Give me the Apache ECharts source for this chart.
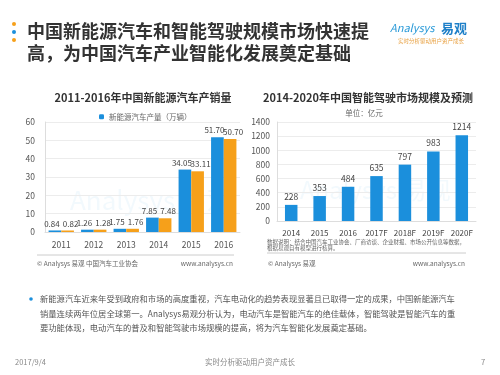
<!DOCTYPE html>
<html>
<head>
<meta charset="utf-8">
<script src="https://cdn.jsdelivr.net/npm/echarts@6/dist/echarts.min.js"></script>
<style>
  html, body { margin: 0; padding: 0; background: #fff; }
  #chart { width: 500px; height: 375px; }
</style>
</head>
<body>
<div id="chart"></div>
<script>
// left chart: new energy vehicles (万辆)
const evYears = ['2011', '2012', '2013', '2014', '2015', '2016']
const evProduction = [0.84, 1.26, 1.75, 7.85, 34.05, 51.70]
const evSales = [0.82, 1.28, 1.76, 7.48, 33.11, 50.70]

// right chart: autonomous driving market (亿元)
const adYears = ['2014', '2015', '2016', '2017F', '2018F', '2019F', '2020F']
const adMarket = [228, 353, 484, 635, 797, 983, 1214]

const FONT = '"Noto Sans CJK SC", "Noto Sans", sans-serif'
const BLUE = '#1b8fdc'
const ORANGE = '#f6a01a'

const bodyLines = [
  '新能源汽车近来年受到政府和市场的高度重视，汽车电动化的趋势表现显著且已取得一定的成果，中国新能源汽车',
  '销量连续两年位居全球第一。Analysys易观分析认为，电动汽车是智能汽车的绝佳载体，智能驾驶是智能汽车的重',
  '要功能体现，电动汽车的普及和智能驾驶市场规模的提高，将为汽车智能化发展奠定基础。'
]

const chart = echarts.init(document.getElementById('chart'))

const txt = (x, y, text, style) => ({
  type: 'text',
  x, y,
  style: Object.assign({ text, fontFamily: FONT, fill: '#555', fontSize: 8, textVerticalAlign: 'middle' }, style)
})

const axisLabel = { color: '#555', fontSize: 8.5, fontFamily: FONT }

chart.setOption({
  animation: false,
  textStyle: { fontFamily: FONT },
  title: [
    {
      text: '2011-2016年中国新能源汽车产销量',
      left: 138, top: 87, textAlign: 'center',
      textStyle: { fontSize: 11, fontWeight: 'bold', color: '#333', fontFamily: FONT }
    },
    {
      text: '2014-2020年中国智能驾驶市场规模及预测',
      left: 363, top: 87, textAlign: 'center',
      textStyle: { fontSize: 11, fontWeight: 'bold', color: '#333', fontFamily: FONT }
    }
  ],
  legend: {
    data: ['新能源汽车产量（万辆）'],
    left: 94, top: 108,
    itemWidth: 5, itemHeight: 5, itemGap: 4,
    textStyle: { fontSize: 7.5, color: '#666', fontFamily: FONT }
  },
  grid: [
    { left: 45, right: 260, top: 122, bottom: 143 },
    { left: 277, right: 24, top: 122, bottom: 154 }
  ],
  xAxis: [
    {
      type: 'category', gridIndex: 0, data: evYears,
      axisTick: { show: false },
      axisLine: { lineStyle: { color: '#ddd' } },
      axisLabel: Object.assign({ margin: 9, interval: 0 }, axisLabel)
    },
    {
      type: 'category', gridIndex: 1, data: adYears,
      axisTick: { show: false },
      axisLine: { lineStyle: { color: '#ddd' } },
      axisLabel: Object.assign({}, axisLabel, { margin: 8, interval: 0, color: '#444', fontSize: 8 })
    }
  ],
  yAxis: [
    {
      type: 'value', gridIndex: 0, min: 0, max: 60, interval: 10,
      axisLine: { show: true, lineStyle: { color: '#ddd' } },
      splitLine: { lineStyle: { color: '#ececec' } },
      axisLabel: Object.assign({ margin: 10 }, axisLabel)
    },
    {
      type: 'value', gridIndex: 1, min: 0, max: 1400, interval: 200,
      axisLine: { show: true, lineStyle: { color: '#ddd' } },
      splitLine: { lineStyle: { color: '#ececec' } },
      axisLabel: Object.assign({ margin: 7, formatter: v => String(v) }, axisLabel)
    }
  ],
  series: [
    {
      name: '新能源汽车产量（万辆）',
      type: 'bar', xAxisIndex: 0, yAxisIndex: 0,
      data: evProduction,
      barGap: '0%', barCategoryGap: '22%',
      itemStyle: { color: BLUE },
      label: {
        show: true, position: 'top', distance: 3, offset: [-3, 0],
        fontSize: 8, color: '#444', fontFamily: FONT,
        formatter: p => p.value.toFixed(2)
      }
    },
    {
      name: '新能源汽车销量（万辆）',
      type: 'bar', xAxisIndex: 0, yAxisIndex: 0,
      data: evSales,
      itemStyle: { color: ORANGE },
      label: {
        show: true, position: 'top', distance: 3, offset: [3, 0],
        fontSize: 8, color: '#444', fontFamily: FONT,
        formatter: p => p.value.toFixed(2)
      }
    },
    {
      name: '智能驾驶市场规模',
      type: 'bar', xAxisIndex: 1, yAxisIndex: 1,
      data: adMarket,
      barWidth: 12.5,
      itemStyle: { color: BLUE },
      label: {
        show: true, position: 'top', distance: 4,
        fontSize: 8.5, color: '#444', fontFamily: FONT
      }
    }
  ],
  graphic: [
    // header dots
    { type: 'circle', shape: { cx: 14, cy: 24, r: 2 }, style: { fill: ORANGE } },
    { type: 'circle', shape: { cx: 14, cy: 32, r: 2 }, style: { fill: BLUE } },
    { type: 'circle', shape: { cx: 14, cy: 40, r: 2 }, style: { fill: ORANGE } },
    txt(27, 31, '中国新能源汽车和智能驾驶规模市场快速提', { fontSize: 18, fontWeight: 'bold', fill: '#333' }),
    txt(27, 53, '高，为中国汽车产业智能化发展奠定基础', { fontSize: 18, fontWeight: 'bold', fill: '#333' }),
    // logo
    txt(390, 28, 'Analysys', { fontSize: 11, fontStyle: 'italic', fill: '#2a9ad8' }),
    txt(441, 28, '易观', { fontSize: 13, fontWeight: 'bold', fill: '#1d7fc8' }),
    txt(398, 41, '实时分析驱动用户资产成长', { fontSize: 5.5, fill: '#e8a040' }),
    // faint watermarks
    txt(70, 200, 'Analysys 易观', { fontSize: 26, fill: 'rgba(40,150,220,0.06)', rotation: 0.25 }),
    txt(300, 190, 'Analysys 易观', { fontSize: 24, fill: 'rgba(40,150,220,0.06)', rotation: 0.35 }),
    // unit note
    txt(364, 113, '单位：亿元', { fontSize: 7.5, fill: '#666', textAlign: 'center' }),
    // left footer
    { type: 'line', shape: { x1: 37, y1: 255, x2: 234, y2: 255 }, style: { stroke: '#ccc', lineWidth: 1 } },
    txt(37, 264, '© Analysys 易观 中国汽车工业协会', { fontSize: 6.5, fill: '#666' }),
    txt(233, 264, 'www.analysys.cn', { fontSize: 6.5, fill: '#666', textAlign: 'right' }),
    // right footer
    txt(267, 242, '数据说明：结合中国汽车工业协会、厂商访谈、企业财报、市场公开信息等数据，', { fontSize: 5.5, fill: '#666' }),
    txt(267, 248, '根据易观自有模型进行核算。', { fontSize: 5.5, fill: '#666' }),
    { type: 'line', shape: { x1: 267, y1: 253, x2: 466, y2: 253 }, style: { stroke: '#ccc', lineWidth: 1 } },
    txt(268, 264, '© Analysys 易观', { fontSize: 6.5, fill: '#666' }),
    txt(465, 264, 'www.analysys.cn', { fontSize: 6.5, fill: '#666', textAlign: 'right' }),
    // body text
    { type: 'circle', shape: { cx: 31, cy: 299, r: 1.8 }, style: { fill: '#1b8fdc' } },
    txt(40, 299, bodyLines[0], { fontSize: 8.3, fill: '#555' }),
    txt(40, 313.5, bodyLines[1], { fontSize: 8.3, fill: '#555' }),
    txt(40, 328, bodyLines[2], { fontSize: 8.3, fill: '#555' }),
    // page footer
    txt(15, 362, '2017/9/4', { fontSize: 7.5, fill: '#888' }),
    txt(250, 362, '实时分析驱动用户资产成长', { fontSize: 7.5, fill: '#888', textAlign: 'center' }),
    txt(483, 362, '7', { fontSize: 7.5, fill: '#888', textAlign: 'center' })
  ]
})
</script>
</body>
</html>
